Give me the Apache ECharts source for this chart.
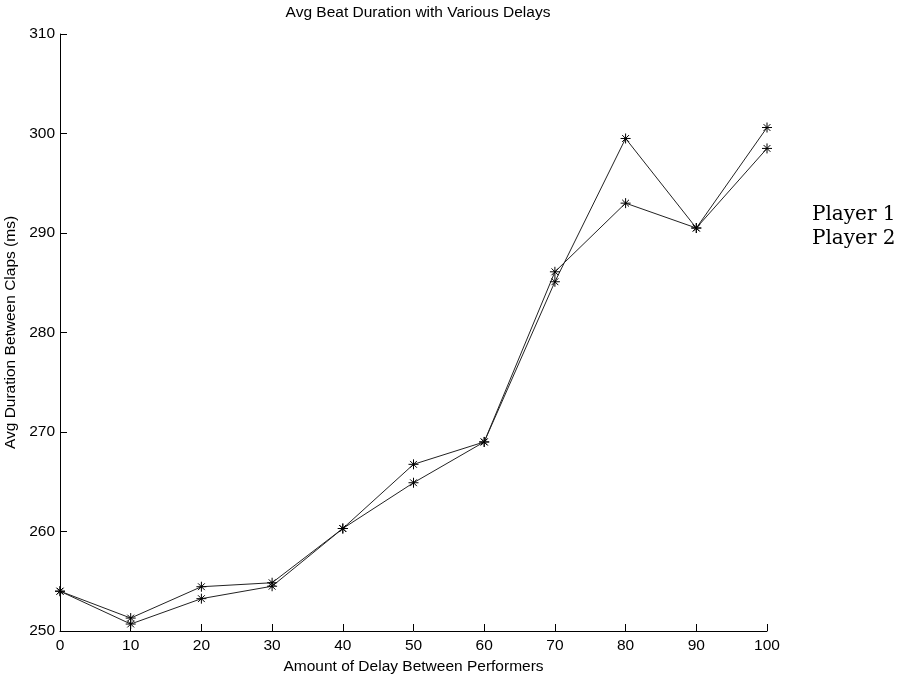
<!DOCTYPE html>
<html>
<head>
<meta charset="utf-8">
<script src="https://cdn.jsdelivr.net/npm/echarts@6/dist/echarts.min.js"></script>
<style>html,body{margin:0;padding:0;background:#fff}#c{width:900px;height:676px}</style>
</head>
<body>
<div id="c"></div>
<script>
const delays = [0, 10, 20, 30, 40, 50, 60, 70, 80, 90, 100];
const player1 = [254.0, 251.3, 254.45, 254.85, 260.3, 266.75, 269.0, 285.1, 299.5, 290.5, 300.6];
const player2 = [254.0, 250.7, 253.25, 254.5, 260.3, 264.9, 269.0, 286.1, 293.0, 290.5, 298.5];
const seriesNames = ['Player 1', 'Player 2'];
const titleText = 'Avg Beat Duration with Various Delays';
const xName = 'Amount of Delay Between Performers';
const yName = 'Avg Duration Between Claps (ms)';

const star = 'path://M5,0L5,10M0,5L10,5M1.6,1.6L8.4,8.4M8.4,1.6L1.6,8.4';
const sans = 'Liberation Sans';
const fs = 15.5;

function mk(name, vals) {
  return {
    name: name,
    type: 'line',
    data: delays.map((d, i) => [d, vals[i]]),
    symbol: star,
    symbolSize: 10,
    showSymbol: true,
    lineStyle: { color: '#222', width: 1 },
    itemStyle: { color: '#000', borderColor: '#000', borderWidth: 1 },
    emphasis: { disabled: true },
    animation: false
  };
}

const chart = echarts.init(document.getElementById('c'));
chart.setOption({
  backgroundColor: '#fff',
  animation: false,
  title: {
    text: titleText,
    left: 413, top: 0, textAlign: 'center',
    textStyle: { fontFamily: sans, fontSize: fs, fontWeight: 'normal', color: '#000' }
  },
  legend: {
    data: seriesNames,
    orient: 'vertical',
    left: 801, top: 200,
    itemWidth: 0, itemHeight: 0, itemGap: 4,
    icon: 'rect',
    selectedMode: false,
    textStyle: { fontFamily: 'DejaVu Serif', fontSize: 20, lineHeight: 20, color: '#000' }
  },
  grid: { left: 60, right: 133, top: 34, bottom: 45, containLabel: false, outerBoundsMode: 'none' },
  xAxis: {
    type: 'value', min: 0, max: 100, interval: 10,
    name: xName, nameLocation: 'middle', nameGap: 25,
    nameTextStyle: { fontFamily: sans, fontSize: fs, color: '#000' },
    axisLine: { show: true, lineStyle: { color: '#000', width: 1 } },
    axisTick: { show: true, inside: true, length: 7, lineStyle: { color: '#000' } },
    axisLabel: { fontFamily: sans, fontSize: fs, color: '#000', margin: 7 },
    splitLine: { show: false }
  },
  yAxis: {
    type: 'value', min: 250, max: 310, interval: 10,
    name: yName, nameLocation: 'middle', nameGap: 35, nameRotate: 90,
    nameTextStyle: { fontFamily: sans, fontSize: fs, color: '#000' },
    axisLine: { show: true, lineStyle: { color: '#000', width: 1 } },
    axisTick: { show: true, inside: true, length: 7, lineStyle: { color: '#000' } },
    axisLabel: { fontFamily: sans, fontSize: fs, color: '#000', margin: 5 },
    splitLine: { show: false }
  },
  series: [mk(seriesNames[0], player1), mk(seriesNames[1], player2)]
});
</script>
</body>
</html>
